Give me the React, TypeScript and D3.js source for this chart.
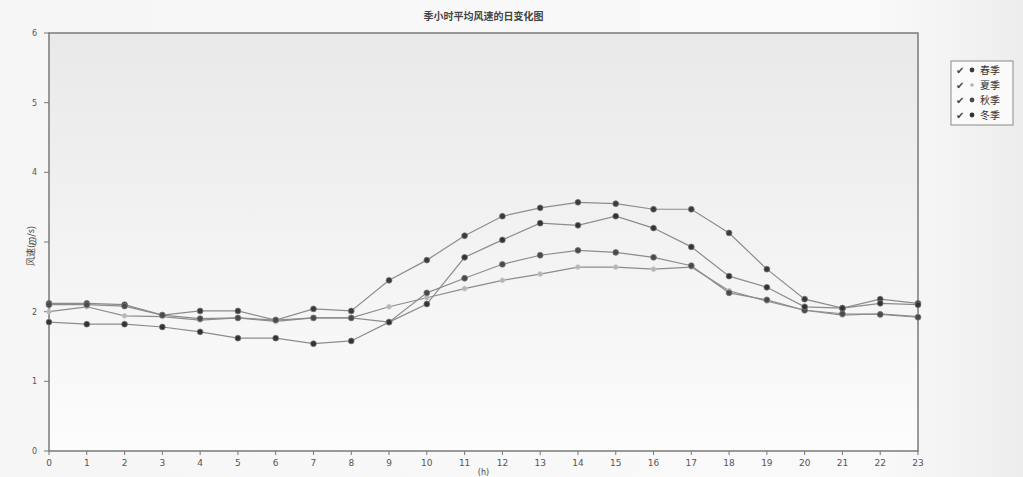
import * as d3 from 'd3'

// hours of day
const hours = d3.range(0, 24)
const yTicks = [0, 1, 2, 3, 4, 5, 6]

const seasons = ['春季', '夏季', '秋季', '冬季']

// mean wind speed (m/s) per hour
const spring = [2.12, 2.12, 2.1, 1.95, 2.01, 2.01, 1.88, 2.04, 2.01, 2.45, 2.74, 3.09, 3.37, 3.49, 3.57, 3.55, 3.47, 3.47, 3.13, 2.61, 2.18, 2.05, 2.18, 2.12]
const summer = [2.0, 2.07, 1.94, 1.93, 1.88, 1.91, 1.86, 1.91, 1.91, 2.07, 2.2, 2.33, 2.45, 2.54, 2.64, 2.64, 2.61, 2.64, 2.3, 2.15, 2.02, 1.95, 1.97, 1.93]
const autumn = [2.1, 2.1, 2.08, 1.95, 1.9, 1.91, 1.88, 1.91, 1.91, 1.85, 2.27, 2.48, 2.68, 2.81, 2.88, 2.85, 2.78, 2.66, 2.27, 2.17, 2.02, 1.97, 1.96, 1.92]
const winter = [1.85, 1.82, 1.82, 1.78, 1.71, 1.62, 1.62, 1.54, 1.58, 1.85, 2.11, 2.78, 3.03, 3.27, 3.24, 3.37, 3.2, 2.93, 2.51, 2.35, 2.07, 2.05, 2.12, 2.1]

const seriesValues = [spring, summer, autumn, winter]
const markerFill = ['#3a3a3a', '#b4b4b4', '#4a4a4a', '#333']

export default function App() {
  const width = 1023
  const height = 477
  const left = 49, right = 918, top = 33, bottom = 451

  const x = d3.scaleLinear().domain([0, 23]).range([left, right])
  const y = d3.scaleLinear().domain([0, 6]).range([bottom, top])

  const line = d3.line<number>()
    .x((d, i) => x(hours[i]))
    .y(d => y(d))

  const font = 'DejaVu Sans, sans-serif'
  const cjk = '"Noto Sans CJK SC", sans-serif'

  return (
    <svg width={width} height={height}
      style={{ position: 'absolute', left: 0, top: 0, display: 'block' }}>
      <defs>
        <linearGradient id="bg" x1="0" y1="0" x2="0" y2="1">
          <stop offset="0" stopColor="#e9e9e9" />
          <stop offset="1" stopColor="#fcfcfc" />
        </linearGradient>
        <linearGradient id="page" x1="0" y1="0" x2="1" y2="0">
          <stop offset="0" stopColor="#f6f6f6" />
          <stop offset="0.85" stopColor="#fafafa" />
          <stop offset="1" stopColor="#ededed" />
        </linearGradient>
      </defs>
      <rect width={width} height={height} fill="url(#page)" />

      {/* title */}
      <text x={(left + right) / 2} y={20} textAnchor="middle" fontSize={10}
        fontFamily={cjk} fontWeight="bold" fill="#444">季小时平均风速的日变化图</text>

      {/* plot area */}
      <rect x={left} y={top} width={right - left} height={bottom - top}
        fill="url(#bg)" stroke="#7a7a7a" strokeWidth={1.5} />

      {/* y axis ticks */}
      {yTicks.map(t => (
        <g key={t}>
          <line x1={left - 5} x2={left} y1={y(t)} y2={y(t)} stroke="#777" />
          <text x={left - 12} y={y(t) + 3} textAnchor="end" fontSize={8}
            fontFamily={font} fill="#555">{t}</text>
        </g>
      ))}

      {/* x axis ticks */}
      {hours.map(h => (
        <g key={h}>
          <line x1={x(h)} x2={x(h)} y1={bottom} y2={bottom + 4} stroke="#777" />
          <text x={x(h)} y={bottom + 15} textAnchor="middle" fontSize={9}
            fontFamily={font} fill="#555">{h}</text>
        </g>
      ))}

      <text transform={`translate(34,${(top + bottom) / 2 + 4}) rotate(-90)`}
        textAnchor="middle" fontSize={9} fontFamily={cjk} fill="#444">风速(m/s)</text>
      <text x={(left + right) / 2} y={475} textAnchor="middle" fontSize={8}
        fontFamily={font} fill="#444">(h)</text>

      {/* series */}
      {seriesValues.map((vals, si) => (
        <g key={seasons[si]}>
          <path d={line(vals) ?? ''} fill="none" stroke="#8c8c8c" strokeWidth={1.2} />
          {vals.map((v, i) => (
            <circle key={i} cx={x(hours[i])} cy={y(v)} r={si === 1 ? 2.4 : 2.9}
              fill={markerFill[si]} stroke={si === 1 ? '#c8c8c8' : '#777'} strokeWidth={0.8} />
          ))}
        </g>
      ))}

      {/* legend */}
      <g transform="translate(951,61)">
        <rect width={62} height={64} fill="#fafafa" stroke="#8a8a8a" strokeWidth={1} />
        {seasons.map((s, i) => (
          <g key={s} transform={`translate(0,${9 + i * 15})`}>
            <text x={5} y={4} fontSize={10} fontFamily={font} fill="#444">✔</text>
            <circle cx={21} cy={0} r={i === 1 ? 1.8 : 2.4} fill={markerFill[i]} />
            <text x={29} y={4} fontSize={10} fontFamily={cjk} fill="#333">{s}</text>
          </g>
        ))}
      </g>
    </svg>
  )
}
